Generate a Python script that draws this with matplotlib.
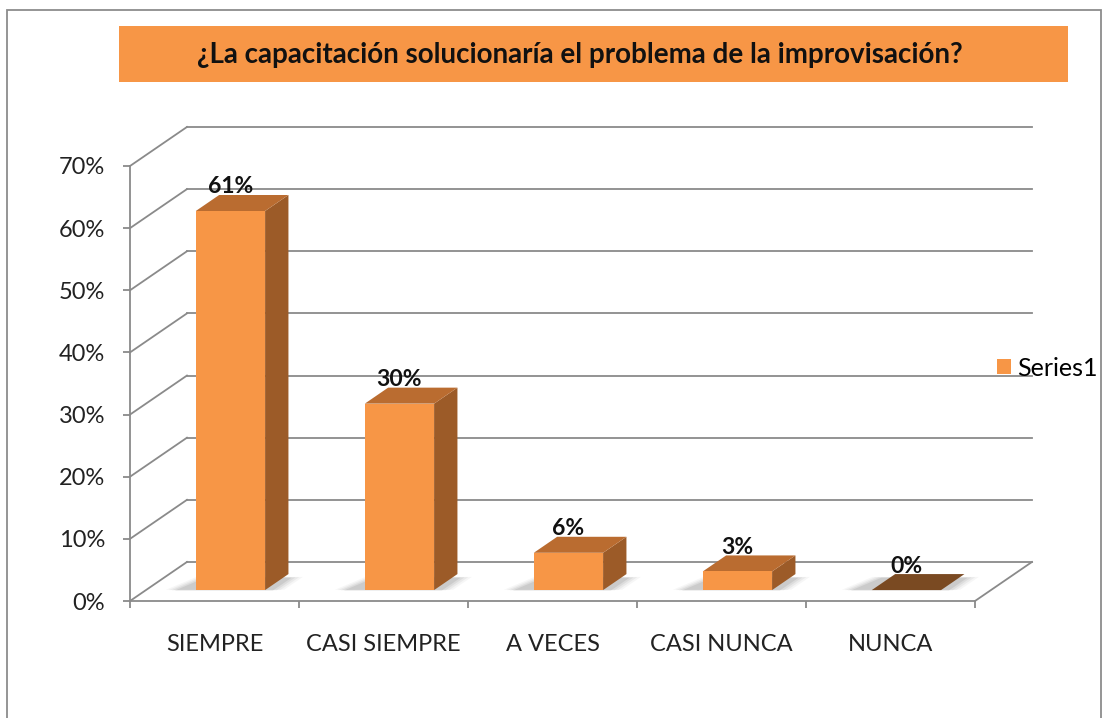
import matplotlib.pyplot as plt
from matplotlib.patches import Polygon, Rectangle, Patch
from matplotlib.ticker import PercentFormatter

# data
categories = ['SIEMPRE', 'CASI SIEMPRE', 'A VECES', 'CASI NUNCA', 'NUNCA']
values = [0.61, 0.30, 0.06, 0.03, 0.00]
labels = ['61%', '30%', '6%', '3%', '0%']
title = '¿La capacitación solucionaría el problema de la improvisación?'
series_name = 'Series1'

plt.rcParams['font.family'] = ['Lato', 'DejaVu Sans']

W, H = 1114, 718
fig = plt.figure(figsize=(W / 100, H / 100), dpi=100)
fig.patch.set_facecolor('white')

# outer chart border
fig.add_artist(Rectangle((7 / W, -0.05), 1094 / W, 1 - 10 / H + 0.05,
                         transform=fig.transFigure, fill=False,
                         edgecolor='#8c8c8c', linewidth=1.3))

# title box
fig.add_artist(Rectangle((119 / W, 1 - 82 / H), 949 / W, 56 / H,
                         transform=fig.transFigure, facecolor='#F79646',
                         edgecolor='none'))
fig.text(580 / W, 1 - 55 / H, title, ha='center', va='center',
         fontsize=20, fontweight='bold', color='#111111')

ax = fig.add_axes([130 / W, 1 - 601 / H, 845 / W, 435 / H])
ax.set_xlim(-0.5, len(categories) - 0.5)
ax.set_ylim(0, 0.7)
ax.patch.set_alpha(0)

# depth of the 3d box in data units
DX, DY = 0.337, 0.0628
grid_c = '#8a8a8a'


def pt(x, v, d):
    return (x + d * DX, v + d * DY)


xl, xr = ax.get_xlim()
yticks = [i / 10 for i in range(8)]

# back wall gridlines + left wall diagonals
for v in yticks:
    a, b = pt(xl, v, 1), pt(xr, v, 1)
    ax.plot([a[0], b[0]], [a[1], b[1]], color=grid_c, lw=1.3, clip_on=False, zorder=1)
    c = pt(xl, v, 0)
    ax.plot([c[0], a[0]], [c[1], a[1]], color=grid_c, lw=1.3, clip_on=False, zorder=1)

# floor right edge
a, b = pt(xr, 0, 0), pt(xr, 0, 1)
ax.plot([a[0], b[0]], [a[1], b[1]], color=grid_c, lw=1.3, clip_on=False, zorder=1)

front_c = '#F79646'
side_c = '#9C5B28'
top_c = '#BA6C30'
zero_c = '#7A4A22'
bw = 0.205
d0, d1 = 0.28, 0.69

for i, (v, lab) in enumerate(zip(values, labels)):
    x0, x1 = i - bw, i + bw
    # soft shadow on the floor
    for k, al in enumerate([0.05, 0.07, 0.09, 0.12]):
        g = 0.09 - k * 0.02
        sh = [pt(x0 - 0.09 - g, 0, d0 - 0.02 + g * 0.3), pt(x1 + 0.02 + g, 0, d0 - 0.02 + g * 0.3),
              pt(x1 + 0.02 + g, 0, d1 - 0.1 + g * 0.3), pt(x0 - 0.02 - g, 0, d1 - 0.1 + g * 0.3)]
        ax.add_patch(Polygon(sh, closed=True, facecolor='#555555', alpha=al,
                             edgecolor='none', zorder=2, clip_on=False))
    if v > 0:
        front = [pt(x0, 0, d0), pt(x1, 0, d0), pt(x1, v, d0), pt(x0, v, d0)]
        side = [pt(x1, 0, d0), pt(x1, 0, d1), pt(x1, v, d1), pt(x1, v, d0)]
        top = [pt(x0, v, d0), pt(x1, v, d0), pt(x1, v, d1), pt(x0, v, d1)]
        ax.add_patch(Polygon(side, closed=True, facecolor=side_c, edgecolor='none', zorder=3, clip_on=False))
        ax.add_patch(Polygon(top, closed=True, facecolor=top_c, edgecolor='none', zorder=3, clip_on=False))
        ax.add_patch(Polygon(front, closed=True, facecolor=front_c, edgecolor='none', zorder=4, clip_on=False))
    else:
        top = [pt(x0, v, d0), pt(x1, v, d0), pt(x1, v, d1), pt(x0, v, d1)]
        ax.add_patch(Polygon(top, closed=True, facecolor=zero_c, edgecolor='none', zorder=3, clip_on=False))
    tx = pt(i, v, d0)[0]
    ty = pt(i, v, d1)[1]
    ax.text(tx, ty - 0.004, lab, ha='center', va='bottom', fontsize=16.5,
            fontweight='bold', color='#111111', zorder=6)

# axes spines and ticks
for s in ['top', 'right']:
    ax.spines[s].set_visible(False)
for s in ['left', 'bottom']:
    ax.spines[s].set_color(grid_c)
    ax.spines[s].set_linewidth(1.3)

ax.set_yticks(yticks)
ax.yaxis.set_major_formatter(PercentFormatter(1.0, decimals=0))
ax.tick_params(axis='y', direction='out', length=5, width=1.3, color=grid_c,
               pad=13, labelsize=17, labelcolor='#222222')

ax.set_xticks([i - 0.5 for i in range(len(categories) + 1)])
ax.set_xticklabels([])
ax.set_xticks(range(len(categories)), minor=True)
ax.set_xticklabels(categories, minor=True)
ax.tick_params(axis='x', which='major', direction='out', length=5, width=1.3, color=grid_c)
ax.tick_params(axis='x', which='minor', length=0, pad=24, labelsize=17, labelcolor='#222222')

# legend
fig.legend(handles=[Patch(facecolor=front_c)], labels=[series_name],
           loc='center left', bbox_to_anchor=(997 / W, 1 - 368 / H), frameon=False,
           handlelength=0.56, handleheight=0.56, handletextpad=0.25, fontsize=18,
           borderaxespad=0, borderpad=0)

fig.savefig('out.png', dpi=100)
